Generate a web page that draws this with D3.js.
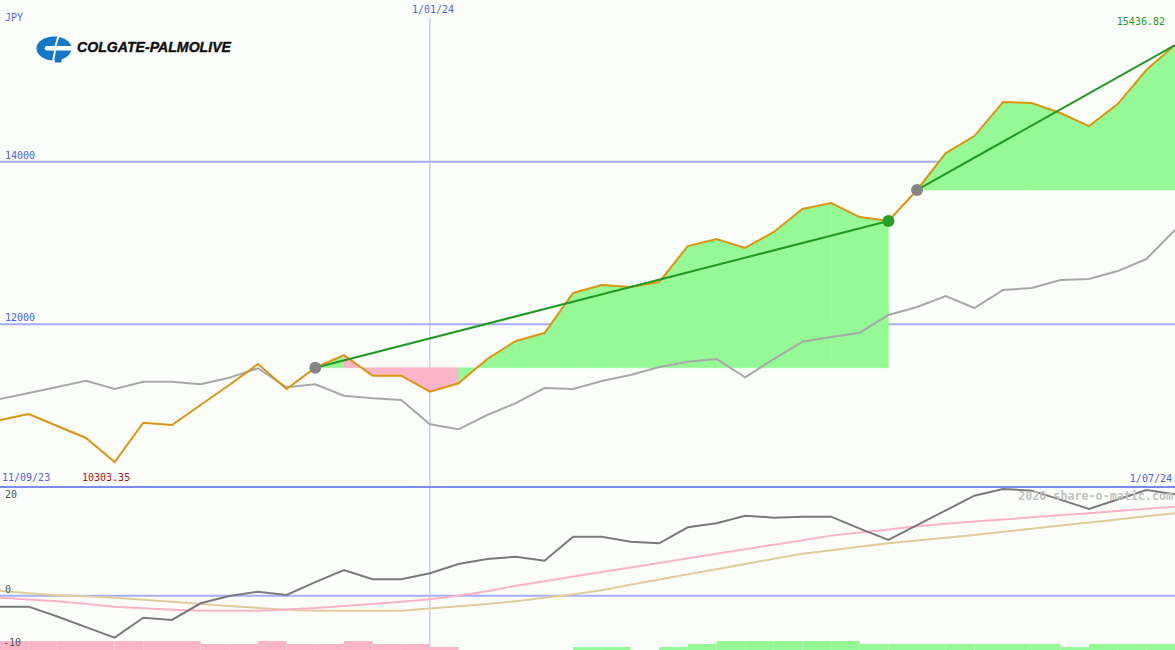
<!DOCTYPE html>
<html><head><meta charset="utf-8">
<script src="https://cdn.jsdelivr.net/npm/d3@7"></script>
<style>html,body{margin:0;padding:0;background:#fcfefc;overflow:hidden}svg{display:block}</style>
</head><body>
<svg id="c" width="1175" height="650"></svg>
<script>
// ---- data (weekly points, index 0..41) ----
const price = [10820, 10894, 10746, 10599, 10303.35, 10787, 10759, 11005, 11251, 11510,
  11202, 11464, 11620, 11366, 11366, 11169, 11272, 11571, 11793, 11891,
  12384, 12482, 12457, 12519, 12962, 13048, 12938, 13135, 13418, 13492,
  13319, 13270, 13652, 14107, 14316, 14735, 14723, 14600, 14439, 14710,
  15129, 15436.82];
const compare = [11079, 11152, 11226, 11304, 11202, 11292, 11292, 11260, 11341, 11457,
  11223, 11260, 11119, 11087, 11066, 10767, 10706, 10882, 11029, 11214,
  11202, 11300, 11374, 11473, 11538, 11571, 11346, 11571, 11784, 11842,
  11895, 12113, 12211, 12347, 12199, 12421, 12445, 12544, 12556, 12654,
  12802, 13159];
const momentum = [-2.02, -2.02, -3.83, -5.78, -7.73, -4.05, -4.47, -1.40, -0.06, 0.74,
  0.13, 2.48, 4.73, 3.02, 3.02, 4.12, 5.83, 6.75, 7.18, 6.44,
  10.86, 10.86, 9.94, 9.64, 12.59, 13.33, 14.72, 14.36, 14.54, 14.54,
  12.35, 10.25, 13.0, 15.7, 18.4, 19.64, 19.33, 17.67, 15.96, 17.7,
  19.46, 18.66];
const maFast = [-0.37, -0.70, -1.03, -1.51, -2.02, -2.30, -2.58, -2.76, -2.76, -2.76,
  -2.56, -2.25, -1.90, -1.53, -1.12, -0.68, -0.02, 0.81, 1.82, 2.65,
  3.52, 4.36, 5.19, 6.02, 6.87, 7.70, 8.54, 9.37, 10.22, 11.05,
  11.64, 12.19, 12.76, 13.24, 13.63, 14.01, 14.42, 14.80, 15.19, 15.59,
  15.98, 16.38];
const maSlow = [0.92, 0.46, 0.09, -0.09, -0.37, -0.75, -1.14, -1.53, -1.91, -2.26,
  -2.61, -2.76, -2.76, -2.76, -2.76, -2.34, -1.93, -1.55, -1.01, -0.37,
  0.26, 0.98, 2.01, 2.96, 3.94, 4.88, 5.83, 6.79, 7.71, 8.34,
  9.02, 9.66, 10.16, 10.67, 11.17, 11.76, 12.33, 12.90, 13.47, 14.04,
  14.61, 15.17];
// signal bars between consecutive points (41 intervals)
const signal = [-3, -3, -3, -3, -3, -3, -3, -2, -2, -3, -2, -2, -3, -2, -2, -1, 0, 0, 0, 0,
  1, 1, 0, 1, 2, 3, 3, 3, 3, 3, 2, 2, 2, 2, 2, 2, 2, 1, 2, 2, 2];
const trends = [[11, 31, true], [32, 41, false]]; // start idx, end idx, completed
const priceTicks = [14000, 12000];
const lowerTicks = [20, 0, -10];
const currency = "JPY";
const startLabel = "11/09/23", midLabel = "1/01/24", endLabel = "1/07/24";
const midIndex = 15;
const minLabel = "10303.35", maxLabel = "15436.82";
const watermark = "2020 share-o-matic.com";
const company = "COLGATE-PALMOLIVE";

// ---- scales ----
const W = 1175, H = 650;
const svg = d3.select("#c");
const n = price.length;
const x = d3.scaleLinear().domain([0, n - 1]).range([0, W]);
const y = d3.scaleLinear().domain([d3.min(price), d3.max(price)]).range([462, 45]);
const y2 = d3.scaleLinear().domain([-10, 20]).range([650, 487]);
const barH = d3.scaleLinear().domain([0, 3]).range([0, 9]);
const mono = "'DejaVu Sans Mono', monospace";
const BG = "#fcfefc";

svg.append("rect").attr("width", W).attr("height", H).attr("fill", BG);

// grid lines
svg.selectAll(".pg").data(priceTicks).join("line")
  .attr("x1", 0).attr("x2", W).attr("y1", d => y(d)).attr("y2", d => y(d))
  .attr("stroke", "#a3acf5").attr("stroke-width", 2);
svg.append("line").attr("x1", 0).attr("x2", W).attr("y1", y2(0)).attr("y2", y2(0))
  .attr("stroke", "#a4b0f2").attr("stroke-width", 2);
svg.append("line").attr("x1", x(midIndex)).attr("x2", x(midIndex)).attr("y1", 18).attr("y2", H)
  .attr("stroke", "#b2b8d8").attr("stroke-width", 1);

// trend fills
trends.forEach(([a, b]) => {
  const base = price[a];
  for (let i = a; i < b; i++) {
    const pts = [[x(i), y(base)], [x(i), y(price[i])], [x(i + 1), y(price[i + 1])], [x(i + 1), y(base)]];
    const col = price[i + 1] >= base ? "#95fa95" : "#fab5c8";
    svg.append("path").attr("d", d3.line()(pts) + "Z").attr("fill", col)
      .attr("stroke", col).attr("stroke-width", 0.6).attr("fill-rule", "nonzero");
  }
});

// comparison line & price line
const lineU = d3.line().x((d, i) => x(i)).y(d => y(d));
svg.append("path").attr("d", lineU(compare)).attr("fill", "none")
  .attr("stroke", "#a8a8a8").attr("stroke-width", 2);
svg.append("path").attr("d", lineU(price)).attr("fill", "none")
  .attr("stroke", "#dc9510").attr("stroke-width", 2);

// trend lines + dots
trends.forEach(([a, b, done]) => {
  svg.append("line").attr("x1", x(a)).attr("y1", y(price[a])).attr("x2", x(b)).attr("y2", y(price[b]))
    .attr("stroke", "#229922").attr("stroke-width", 2);
  svg.append("circle").attr("cx", x(a)).attr("cy", y(price[a])).attr("r", 6).attr("fill", "#858585");
  if (done) svg.append("circle").attr("cx", x(b)).attr("cy", y(price[b])).attr("r", 6).attr("fill", "#25a025");
});

// separator
svg.append("line").attr("x1", 0).attr("x2", W).attr("y1", 487).attr("y2", 487)
  .attr("stroke", "#7b8cec").attr("stroke-width", 2);

// lower panel
const lineL = d3.line().x((d, i) => x(i)).y(d => y2(d));
svg.append("path").attr("d", lineL(maSlow)).attr("fill", "none").attr("stroke", "#e2cc9c").attr("stroke-width", 2);
svg.append("path").attr("d", lineL(maFast)).attr("fill", "none").attr("stroke", "#fbb2c8").attr("stroke-width", 2);
svg.append("path").attr("d", lineL(momentum)).attr("fill", "none").attr("stroke", "#7a7a7a").attr("stroke-width", 2);

svg.selectAll(".bar").data(signal).join("rect")
  .attr("x", (d, i) => x(i)).attr("width", (d, i) => x(i + 1) - x(i))
  .attr("y", d => H - barH(Math.abs(d))).attr("height", d => barH(Math.abs(d)))
  .attr("fill", d => d < 0 ? "#fab5c8" : "#95fa95");

// texts
const txt = (s, tx, ty, col, anchor, size) => svg.append("text").text(s).attr("x", tx).attr("y", ty)
  .attr("fill", col).attr("font-family", mono).attr("font-size", size || 10)
  .attr("text-anchor", anchor || "start");
txt(currency, 5, 21, "#5060f0");
txt(midLabel, x(midIndex) - 18, 13, "#5060f0");
txt(maxLabel, 1165, 25, "#229922", "end");
priceTicks.forEach(t => txt(String(t), 5, y(t) - 3, "#5060f0"));
txt(startLabel, 2, 481, "#5060f0");
txt(minLabel, 82, 481, "#aa1515");
txt(endLabel, 1172, 482, "#5060f0", "end");
txt(String(lowerTicks[0]), 5, 498, "#555");
txt(String(lowerTicks[1]), 5, 593, "#555");
txt(String(lowerTicks[2]), 3, 646, "#555");
svg.append("text").text(watermark).attr("x", 1173).attr("y", 500).attr("text-anchor", "end")
  .attr("fill", "#c2c2c2").attr("font-family", mono).attr("font-size", 11.7).attr("font-weight", "bold");

// logo
const logo = svg.append("g");
logo.append("ellipse").attr("cx", 54).attr("cy", 48.5).attr("rx", 17.5).attr("ry", 12).attr("fill", "#1478c8");
logo.append("rect").attr("x", 55).attr("y", 50).attr("width", 6.5).attr("height", 12.5).attr("fill", "#1478c8");
logo.append("path").attr("d", "M50,46 H72 V50.5 H50 Z").attr("fill", BG);
logo.append("path").attr("d", "M47,46 A2.25,2.25 0 0 0 47,50.5 H51 V46 Z").attr("fill", BG);
logo.append("path").attr("d", "M58.5,36 L55.5,46 M55,50.5 L53,62").attr("stroke", BG).attr("stroke-width", 2);
svg.append("text").text(company).attr("x", 77).attr("y", 52)
  .attr("font-family", "'Liberation Sans', Arial, sans-serif").attr("font-weight", 900)
  .attr("font-style", "italic").attr("font-size", 14).attr("fill", "#111")
  .attr("stroke", "#111").attr("stroke-width", 0.4)
  .attr("textLength", 154).attr("lengthAdjust", "spacingAndGlyphs");
</script>
</body></html>
